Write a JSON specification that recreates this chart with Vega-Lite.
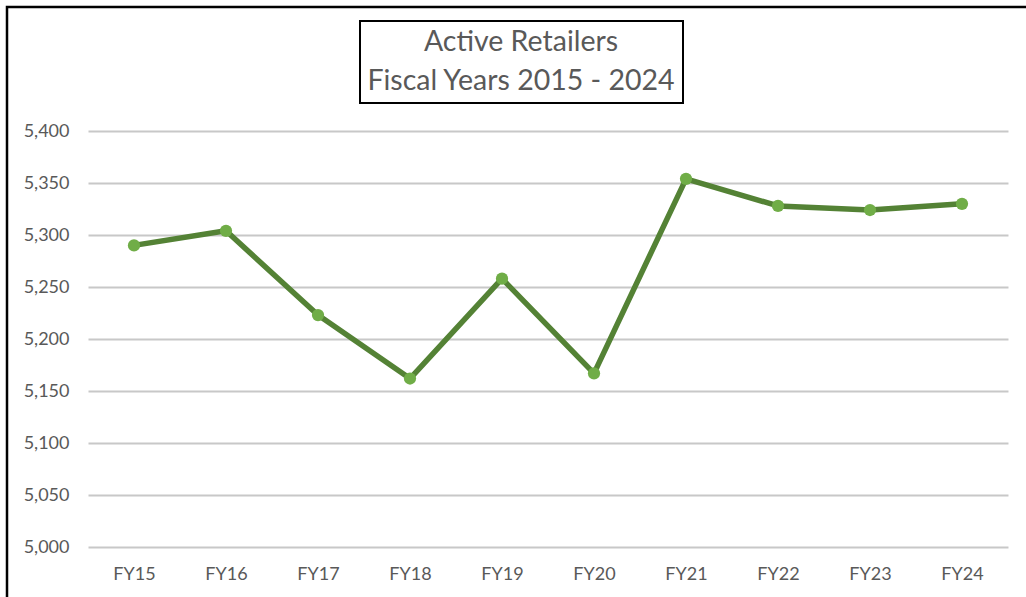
{
  "$schema": "https://vega.github.io/schema/vega-lite/v6.json",
  "autosize": {"type": "none"},
  "padding": {"left": 7, "top": 7, "right": 0, "bottom": 0},
  "width": 1019,
  "height": 590,
  "background": "white",
  "config": {
    "view": {"stroke": "black", "strokeWidth": 2.5, "strokeDash": [1019, 1609, 590, 1]},
    "font": "Lato",
    "legend": {"strokeWidth": 2}
  },
  "data": {
    "values": [
      {"year": "FY15", "retailers": 5290},
      {"year": "FY16", "retailers": 5304},
      {"year": "FY17", "retailers": 5223},
      {"year": "FY18", "retailers": 5162},
      {"year": "FY19", "retailers": 5258},
      {"year": "FY20", "retailers": 5167},
      {"year": "FY21", "retailers": 5354},
      {"year": "FY22", "retailers": 5328},
      {"year": "FY23", "retailers": 5324},
      {"year": "FY24", "retailers": 5330}
    ]
  },
  "encoding": {
    "x": {
      "field": "year",
      "type": "nominal",
      "sort": null,
      "scale": {"type": "point", "range": [81, 1001], "padding": 0.5},
      "axis": {
        "title": null,
        "orient": "bottom",
        "offset": -50,
        "domain": false,
        "ticks": false,
        "grid": false,
        "labelAngle": 0,
        "labelFont": "Lato",
        "labelFontSize": 18,
        "labelColor": "#595959",
        "labelPadding": 18
      }
    },
    "y": {
      "field": "retailers",
      "type": "quantitative",
      "scale": {"domain": [5000, 5400], "range": [540, 124], "nice": false, "zero": false},
      "axis": {
        "title": null,
        "orient": "left",
        "offset": -81,
        "values": [5000, 5050, 5100, 5150, 5200, 5250, 5300, 5350, 5400],
        "format": ",.0f",
        "domain": false,
        "ticks": false,
        "labelFont": "Lato",
        "labelFontSize": 18,
        "labelColor": "#595959",
        "labelPadding": 19,
        "grid": true,
        "gridColor": "#c8c8c8",
        "gridWidth": 2,
        "gridDash": [920, 400],
        "gridDashOffset": 0
      }
    }
  },
  "layer": [
    {
      "mark": {"type": "line", "strokeWidth": 5.5, "strokeCap": "round", "strokeJoin": "round"},
      "encoding": {
        "color": {
          "datum": "Active Retailers",
          "scale": {"range": ["#548235"]},
          "legend": {
            "orient": "none",
            "legendX": 353,
            "legendY": 14,
            "strokeColor": "black",
            "fillColor": "white",
            "padding": 7,
            "title": ["Active Retailers", "Fiscal Years 2015 - 2024"],
            "titleFont": "Lato",
            "titleFontSize": 28.5,
            "titleFontWeight": "normal",
            "titleColor": "#595959",
            "titleAlign": "center",
            "titleAnchor": "middle",
            "titleLineHeight": 39,
            "titleLimit": 0,
            "titlePadding": 0,
            "symbolSize": 0,
            "symbolOpacity": 0,
            "symbolStrokeWidth": 0,
            "labelExpr": "''",
            "labelFontSize": 1
          }
        }
      }
    },
    {
      "mark": {"type": "point", "filled": true, "size": 150, "opacity": 1, "color": "#70AD47"}
    }
  ]
}
